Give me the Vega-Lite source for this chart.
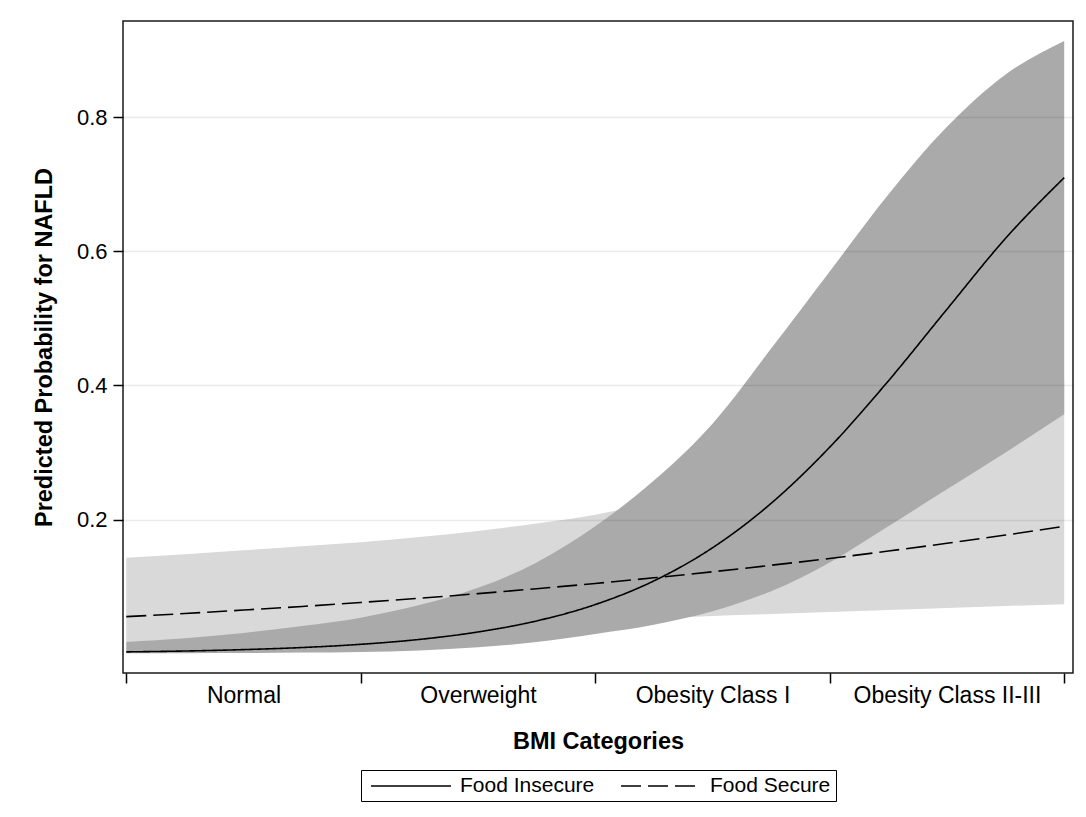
{
  "$schema": "https://vega.github.io/schema/vega-lite/v6.json",
  "width": 950,
  "height": 652,
  "padding": {"left": 32, "top": 21, "right": 8, "bottom": 10},
  "background": "white",
  "config": {
    "font": "Liberation Sans",
    "view": {"stroke": "#1a1a1a", "strokeWidth": 1.5},
    "axis": {"labelColor": "black", "titleColor": "black", "tickColor": "black", "labelFont": "Liberation Sans", "titleFont": "Liberation Sans"},
    "legend": {"layout": {"anchor": "middle"}}
  },
  "data": {
    "values": [
      {"group": "Food Insecure", "x": 0, "p": 0.0025, "lo": 0.0003, "hi": 0.0175},
      {"group": "Food Insecure", "x": 0.25, "p": 0.0038, "lo": 0.0006, "hi": 0.023},
      {"group": "Food Insecure", "x": 0.5, "p": 0.0059, "lo": 0.0009, "hi": 0.0308},
      {"group": "Food Insecure", "x": 0.75, "p": 0.009, "lo": 0.0015, "hi": 0.041},
      {"group": "Food Insecure", "x": 1, "p": 0.0138, "lo": 0.0025, "hi": 0.0536},
      {"group": "Food Insecure", "x": 1.25, "p": 0.0211, "lo": 0.0047, "hi": 0.0724},
      {"group": "Food Insecure", "x": 1.5, "p": 0.0322, "lo": 0.0095, "hi": 0.098},
      {"group": "Food Insecure", "x": 1.75, "p": 0.0487, "lo": 0.0171, "hi": 0.136},
      {"group": "Food Insecure", "x": 2, "p": 0.0731, "lo": 0.0293, "hi": 0.19},
      {"group": "Food Insecure", "x": 2.25, "p": 0.1084, "lo": 0.0431, "hi": 0.258},
      {"group": "Food Insecure", "x": 2.5, "p": 0.1578, "lo": 0.063, "hi": 0.343},
      {"group": "Food Insecure", "x": 2.75, "p": 0.2241, "lo": 0.093, "hi": 0.455},
      {"group": "Food Insecure", "x": 3, "p": 0.3079, "lo": 0.136, "hi": 0.57},
      {"group": "Food Insecure", "x": 3.25, "p": 0.4067, "lo": 0.19, "hi": 0.685},
      {"group": "Food Insecure", "x": 3.5, "p": 0.5137, "lo": 0.245, "hi": 0.786},
      {"group": "Food Insecure", "x": 3.75, "p": 0.6195, "lo": 0.3, "hi": 0.864},
      {"group": "Food Insecure", "x": 4, "p": 0.71, "lo": 0.357, "hi": 0.914},
      {"group": "Food Secure", "x": 0, "p": 0.0551, "lo": 0.0175, "hi": 0.143},
      {"group": "Food Secure", "x": 0.25, "p": 0.0597, "lo": 0.021, "hi": 0.148},
      {"group": "Food Secure", "x": 0.5, "p": 0.0649, "lo": 0.024, "hi": 0.154},
      {"group": "Food Secure", "x": 0.75, "p": 0.0703, "lo": 0.028, "hi": 0.16},
      {"group": "Food Secure", "x": 1, "p": 0.0762, "lo": 0.031, "hi": 0.166},
      {"group": "Food Secure", "x": 1.25, "p": 0.0825, "lo": 0.035, "hi": 0.174},
      {"group": "Food Secure", "x": 1.5, "p": 0.0894, "lo": 0.039, "hi": 0.183},
      {"group": "Food Secure", "x": 1.75, "p": 0.0968, "lo": 0.043, "hi": 0.194},
      {"group": "Food Secure", "x": 2, "p": 0.1046, "lo": 0.047, "hi": 0.207},
      {"group": "Food Secure", "x": 2.25, "p": 0.113, "lo": 0.052, "hi": 0.226},
      {"group": "Food Secure", "x": 2.5, "p": 0.122, "lo": 0.056, "hi": 0.245},
      {"group": "Food Secure", "x": 2.75, "p": 0.1317, "lo": 0.059, "hi": 0.265},
      {"group": "Food Secure", "x": 3, "p": 0.1419, "lo": 0.062, "hi": 0.29},
      {"group": "Food Secure", "x": 3.25, "p": 0.1529, "lo": 0.065, "hi": 0.315},
      {"group": "Food Secure", "x": 3.5, "p": 0.1645, "lo": 0.068, "hi": 0.345},
      {"group": "Food Secure", "x": 3.75, "p": 0.1768, "lo": 0.071, "hi": 0.375},
      {"group": "Food Secure", "x": 4, "p": 0.1898, "lo": 0.0736, "hi": 0.41}
    ]
  },
  "layer": [
    {
      "transform": [{"filter": "datum.group == 'Food Secure'"}],
      "mark": {"type": "area", "color": "#d9d9d9", "opacity": 1, "interpolate": "monotone"},
      "encoding": {
        "x": {
          "field": "x", "type": "quantitative", "title": "BMI Categories",
          "scale": {"domain": [-0.014, 4.0375], "nice": false, "zero": false},
          "axis": {
            "values": [0, 0.5, 1, 1.5, 2, 2.5, 3, 3.5, 4],
            "labelExpr": "datum.value == 0.5 ? 'Normal' : datum.value == 1.5 ? 'Overweight' : datum.value == 2.5 ? 'Obesity Class I' : datum.value == 3.5 ? 'Obesity Class II-III' : ''",
            "tickOpacity": {"condition": {"test": "datum.value % 1 != 0", "value": 0}, "value": 1},
            "tickSize": 10, "tickWidth": 1.5, "labelPadding": 1, "grid": false, "domain": false,
            "labelFontSize": 23, "labelFlush": false, "labelOverlap": false, "labelLimit": 400,
            "titleFontSize": 23.5, "titleFontWeight": "bold", "titlePadding": 22
          }
        },
        "y": {
          "field": "lo", "type": "quantitative", "title": "Predicted Probability for NAFLD",
          "scale": {"domain": [-0.029, 0.9437], "nice": false, "zero": false},
          "axis": {
            "values": [0.2, 0.4, 0.6, 0.8], "format": ".1f",
            "tickSize": 10, "tickWidth": 1.5, "labelPadding": 6, "domain": false,
            "grid": true, "gridColor": "#000000", "gridOpacity": 0.08, "gridWidth": 1.5,
            "zindex": 1, "labelFontSize": 22,
            "titleFontSize": 23.5, "titleFontWeight": "bold", "titlePadding": 20
          }
        },
        "y2": {"field": "hi"}
      }
    },
    {
      "transform": [{"filter": "datum.group == 'Food Insecure'"}],
      "mark": {"type": "area", "color": "#aaaaaa", "opacity": 1, "interpolate": "monotone"},
      "encoding": {
        "x": {"field": "x", "type": "quantitative", "title": "BMI Categories"},
        "y": {"field": "lo", "type": "quantitative", "title": "Predicted Probability for NAFLD"},
        "y2": {"field": "hi"}
      }
    },
    {
      "mark": {"type": "line", "color": "black", "strokeWidth": 1.6, "interpolate": "monotone"},
      "encoding": {
        "x": {"field": "x", "type": "quantitative", "title": "BMI Categories"},
        "y": {"field": "p", "type": "quantitative", "title": "Predicted Probability for NAFLD"},
        "strokeDash": {
          "field": "group", "type": "nominal",
          "scale": {"domain": ["Food Insecure", "Food Secure"], "range": [[1, 0], [20, 7]]},
          "legend": {
            "title": null, "orient": "bottom", "direction": "horizontal",
            "symbolType": "M -0.6 0 L 7.4 0", "symbolSize": 400, "symbolStrokeColor": "black", "symbolStrokeWidth": 1.5,
            "labelFontSize": 21, "labelFont": "Liberation Sans", "labelColor": "black",
            "labelOffset": 72, "columnPadding": 21, "padding": 5,
            "strokeColor": "black", "offset": 17
          }
        }
      }
    }
  ]
}
